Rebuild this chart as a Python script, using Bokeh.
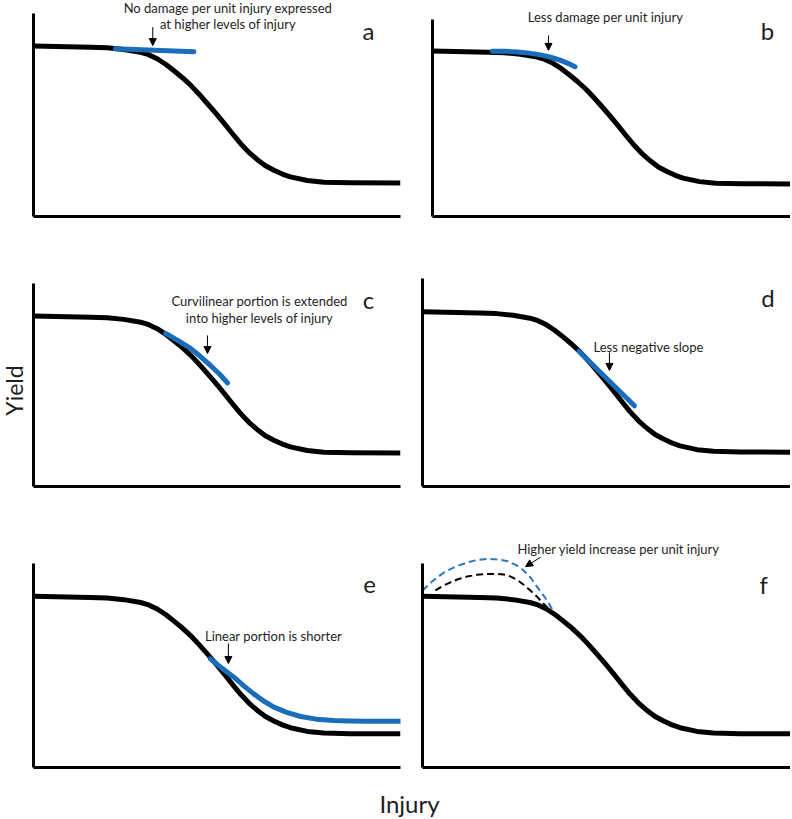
import math
from bokeh.plotting import figure
from bokeh.layouts import row, column
from bokeh.models import Label, Arrow, NormalHead, FixedTicker, Range1d
from bokeh.embed import file_html
from bokeh.resources import INLINE

# ---------------- data (% of each panel's axes) ----------------
# common black yield–injury response curve
INJURY = [0, 15.5, 20.1, 24.6, 29.2, 31.4, 33.7, 36.0, 38.2, 40.5, 42.8, 45.0, 47.3, 49.6,
          51.9, 54.1, 56.4, 58.7, 61.0, 63.2, 65.5, 67.8, 70.0, 74.6, 79.1, 86.4, 100]
YIELD = [84.0, 83.4, 83.1, 82.3, 80.9, 79.7, 77.7, 75.0, 71.9, 68.5, 64.7, 60.5, 55.8, 51.0,
         46.0, 41.0, 36.0, 31.6, 28.0, 25.0, 22.8, 20.9, 19.5, 17.7, 16.9, 16.6, 16.5]

# blue modified responses
A_X = [22.3, 43.7]
A_Y = [82.6, 81.2]
B_X = [16.7, 20.2, 23.7, 27.0, 30.2, 33.0, 35.8, 38.0, 39.8]
B_Y = [83.9, 83.8, 83.5, 82.9, 82.0, 80.8, 79.2, 77.6, 76.0]
C_X = [36.0, 39.4, 42.8, 45.5, 48.2, 50.6, 52.9]
C_Y = [75.4, 71.8, 68.0, 64.0, 59.6, 55.5, 51.0]
D_X = [42.5, 57.6]
D_Y = [65.0, 38.8]
E_X = [48.2, 51.4, 54.6, 57.3, 60.0, 62.7, 65.5, 69.0, 72.8, 77.0, 81.8, 86.0, 90.9, 100]
E_Y = [53.3, 48.6, 44.3, 40.0, 36.1, 32.6, 29.6, 27.0, 25.0, 23.7, 23.0, 22.8, 22.7, 22.7]
F_BLUE_X = [0, 2.8, 5.9, 9.0, 12.3, 15.0, 17.7, 20.5, 23.2, 25.5, 27.5, 29.5, 31.2, 32.6, 33.9, 35.7]
F_BLUE_Y = [86.8, 91.5, 95.7, 98.5, 100.6, 101.8, 102.3, 102.0, 101.1, 99.2, 96.6, 92.8, 88.4,
            85.0, 81.9, 76.1]
F_BLACK_X = [3.5, 5.5, 7.6, 9.8, 12.1, 14.8, 17.6, 20.0, 22.1, 24.0, 25.7, 27.5, 29.3, 31.0, 32.5, 34.8]
F_BLACK_Y = [86.8, 89.0, 90.8, 92.4, 93.6, 94.5, 94.9, 94.9, 94.6, 93.6, 92.0, 89.6, 86.8, 84.0,
             81.0, 76.9]

LETTERS = ["a", "b", "c", "d", "e", "f"]
NOTES = {
    "a": ["No damage per unit injury expressed", "at higher levels of injury"],
    "b": ["Less damage per unit injury"],
    "c": ["Curvilinear portion is extended", "into higher levels of injury"],
    "d": ["Less negative slope"],
    "e": ["Linear portion is shorter"],
    "f": ["Higher yield increase per unit injury"],
}
X_LABEL = "Injury"
Y_LABEL = "Yield"

BLUE = "#1a6db8"
BLUE_DASH = "#2a78bf"
FONT = "Lato"
TXT = "#1e1e1e"

# ---------------- layout (pixel geometry) ----------------
GEOM = {
    #     W    H   bl  br  bt  bb   y_end
    "a": (382, 248, 5, 10, 0, 32, 106.4),
    "b": (380, 248, 22, 0, 0, 32, 109.6),
    "c": (382, 272, 5, 10, 0, 34, 117.2),
    "d": (380, 272, 12, 0, 0, 34, 114.4),
    "e": (382, 255, 5, 10, 0, 8, 121.1),
    "f": (380, 255, 12, 0, 0, 8, 121.1),
}

# note placement: (x_center, [line middles]) ; letter placement ; arrow (xs, ys, xe, ye)
NOTE_POS = {
    "a": (53.0, [102.5, 94.6]),
    "b": (48.3, [101.1]),
    "c": (61.6, [91.2, 82.9]),
    "d": (61.4, [67.0]),
    "e": (65.4, [64.3]),
    "f": (53.3, [106.9]),
}
LETTER_POS = {
    "a": (91.3, 91.7), "b": (93.6, 94.2), "c": (91.3, 92.2),
    "d": (93.9, 90.9), "e": (91.6, 89.8), "f": (92.7, 89.5),
}
ARROWS = {
    "a": (32.5, 93.3, 32.5, 84.2),
    "b": (32.4, 91.9, 32.4, 84.3),
    "c": (47.4, 74.4, 47.4, 65.5),
    "d": (50.8, 64.4, 50.8, 55.8),
    "e": (53.1, 60.8, 53.1, 51.0),
    "f": (32.1, 103.1, 28.0, 98.5),
}


def make_panel(key):
    W, H, bl, br, bt, bb, ye = GEOM[key]
    p = figure(width=W, height=H, x_range=Range1d(0, 100), y_range=Range1d(0, ye),
               output_backend="svg", toolbar_location=None,
               min_border_left=bl, min_border_right=br,
               min_border_top=bt, min_border_bottom=bb)
    p.grid.visible = False
    p.outline_line_color = None
    p.background_fill_color = "white"
    p.border_fill_color = "white"
    for ax in (p.xaxis[0], p.yaxis[0]):
        ax.ticker = FixedTicker(ticks=[])
        ax.major_tick_line_color = None
        ax.minor_tick_line_color = None
        ax.major_label_text_font_size = "0px"
        ax.major_label_standoff = 0
        ax.major_tick_out = 0
        ax.major_tick_in = 0
        ax.minor_tick_out = 0
        ax.minor_tick_in = 0
        ax.axis_line_width = 3
        ax.axis_line_color = "black"
        ax.bounds = (0, 100)

    p.line(INJURY, YIELD, line_color="black", line_width=5, line_join="round")

    if key == "a":
        p.line(A_X, A_Y, line_color=BLUE, line_width=5, line_cap="round")
    elif key == "b":
        p.line(B_X, B_Y, line_color=BLUE, line_width=5, line_cap="round", line_join="round")
    elif key == "c":
        p.line(C_X, C_Y, line_color=BLUE, line_width=5, line_cap="round", line_join="round")
    elif key == "d":
        p.line(D_X, D_Y, line_color=BLUE, line_width=5, line_cap="round")
    elif key == "e":
        p.line(E_X, E_Y, line_color=BLUE, line_width=5, line_cap="round", line_join="round")
    elif key == "f":
        p.line(F_BLACK_X, F_BLACK_Y, line_color="black", line_width=2, line_dash="7 4")
        p.line(F_BLUE_X, F_BLUE_Y, line_color=BLUE_DASH, line_width=2, line_dash="7 4")

    xc, mids = NOTE_POS[key]
    for txt, ym in zip(NOTES[key], mids):
        p.add_layout(Label(x=xc, y=ym, text=txt, text_font=FONT, text_font_size="13px",
                           text_color=TXT, text_align="center", text_baseline="middle"))
    lx, ly = LETTER_POS[key]
    p.add_layout(Label(x=lx, y=ly, text=key, text_font=FONT, text_font_size="24px",
                       text_color=TXT, text_align="center", text_baseline="middle"))
    xs, ys, xe2, ye2 = ARROWS[key]
    p.add_layout(Arrow(x_start=xs, y_start=ys, x_end=xe2, y_end=ye2, line_width=1,
                       line_color="black",
                       end=NormalHead(size=7, fill_color="black", line_color="black", line_width=1)))
    return p


def bare(width, height):
    f = figure(width=width, height=height, x_range=Range1d(0, width), y_range=Range1d(0, height),
               output_backend="svg", toolbar_location=None, x_axis_type=None, y_axis_type=None,
               min_border=0)
    f.grid.visible = False
    f.outline_line_color = None
    return f


panels = {k: make_panel(k) for k in LETTERS}

ylab = bare(28, 775)
ylab.add_layout(Label(x=13.9, y=385, text=Y_LABEL, angle=math.pi / 2, text_font=FONT,
                      text_font_size="23px", text_color=TXT,
                      text_align="center", text_baseline="middle"))

xlab = bare(790, 42)
xlab.add_layout(Label(x=409, y=14.3, text=X_LABEL, text_font=FONT, text_font_size="24px",
                      text_color=TXT, text_align="center", text_baseline="middle"))

layout = column(
    row(ylab, column(row(panels["a"], panels["b"]),
                     row(panels["c"], panels["d"]),
                     row(panels["e"], panels["f"]))),
    xlab,
)

open("out.html", "w").write(file_html(layout, INLINE))
